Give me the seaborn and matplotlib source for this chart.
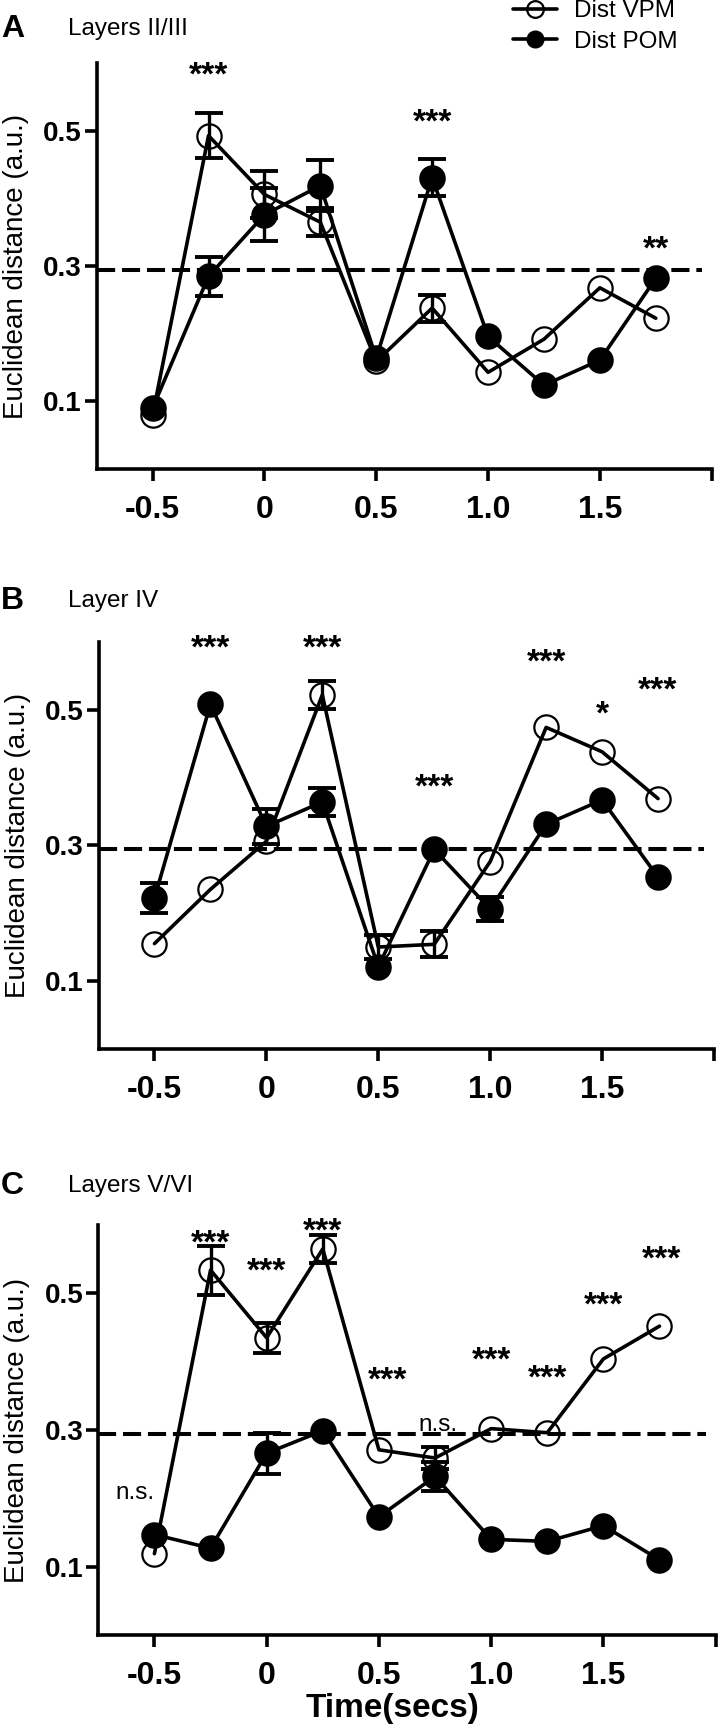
import numpy as np
import matplotlib
matplotlib.use('Agg')
import matplotlib.pyplot as plt
import seaborn as sns
from matplotlib.lines import Line2D

nan = np.nan

# Time points (secs)
times = [-0.5, -0.25, 0.0, 0.25, 0.5, 0.75, 1.0, 1.25, 1.5, 1.75]
threshold = 0.294

# Layers II/III
vpm_a = [0.080, 0.493, 0.406, 0.365, 0.159, 0.238, 0.143, 0.192, 0.268, 0.223]
vpm_a_sem = [nan, 0.033, 0.035, 0.021, nan, 0.020, nan, nan, nan, nan]
pom_a = [0.090, 0.285, 0.376, 0.419, 0.164, 0.431, 0.196, 0.124, 0.161, 0.282]
pom_a_sem = [nan, 0.029, 0.039, 0.038, nan, 0.027, nan, nan, nan, nan]
stars_a_x = [-0.25, 0.75, 1.75]
stars_a_y = [0.604, 0.535, 0.346]
stars_a_txt = ['***', '***', '**']

# Layer IV
vpm_b = [0.155, 0.235, 0.306, 0.522, 0.150, 0.154, 0.276, 0.474, 0.438, 0.369]
vpm_b_sem = [nan, nan, nan, 0.021, 0.018, 0.019, nan, nan, nan, nan]
pom_b = [0.222, 0.508, 0.328, 0.364, 0.121, 0.294, 0.206, 0.331, 0.367, 0.253]
pom_b_sem = [0.022, nan, 0.026, 0.021, nan, nan, 0.018, nan, nan, nan]
stars_b_x = [-0.25, 0.25, 0.75, 1.25, 1.5, 1.75]
stars_b_y = [0.612, 0.612, 0.407, 0.592, 0.515, 0.550]
stars_b_txt = ['***', '***', '***', '***', '*', '***']

# Layers V/VI
vpm_c = [0.119, 0.534, 0.435, 0.565, 0.271, 0.259, 0.302, 0.296, 0.404, 0.452]
vpm_c_sem = [nan, 0.036, 0.022, 0.021, nan, 0.016, nan, nan, nan, nan]
pom_c = [0.147, 0.127, 0.266, 0.299, 0.173, 0.232, 0.140, 0.137, 0.160, 0.110]
pom_c_sem = [nan, nan, 0.030, nan, nan, 0.021, nan, nan, nan, nan]
stars_c_x = [-0.25, 0.0, 0.25, 0.54, 1.0, 1.25, 1.5, 1.76]
stars_c_y = [0.595, 0.554, 0.612, 0.395, 0.424, 0.397, 0.504, 0.571]
stars_c_txt = ['***'] * 8
ns_c_x = [-0.586, 0.763]
ns_c_y = [0.199, 0.299]

xticks = [-0.5, 0.0, 0.5, 1.0, 1.5, 2.0]
xticklabels = ['-0.5', '0', '0.5', '1.0', '1.5', '']
yticks = [0.1, 0.3, 0.5]

sns.set_theme(style='ticks')
plt.rcParams['font.family'] = ['Liberation Sans', 'DejaVu Sans']
plt.rcParams.update({'text.color': 'black', 'axes.labelcolor': 'black',
                     'xtick.color': 'black', 'ytick.color': 'black'})

W, H = 720, 1728
fig = plt.figure(figsize=(W / 100, H / 100), dpi=100)


def px_axes(left, right, top, bottom):
    return fig.add_axes([left / W, 1 - bottom / H, (right - left) / W, (bottom - top) / H])


panels = [
    dict(box=(96.7, 711.7, 63.3, 469.0), vpm=vpm_a, vpm_sem=vpm_a_sem, pom=pom_a, pom_sem=pom_a_sem,
         sx=stars_a_x, sy=stars_a_y, st=stars_a_txt, letter='A', title='Layers II/III', ty=29),
    dict(box=(98.5, 714.0, 642.0, 1048.7), vpm=vpm_b, vpm_sem=vpm_b_sem, pom=pom_b, pom_sem=pom_b_sem,
         sx=stars_b_x, sy=stars_b_y, st=stars_b_txt, letter='B', title='Layer IV', ty=601),
    dict(box=(98.3, 715.6, 1225.0, 1635.0), vpm=vpm_c, vpm_sem=vpm_c_sem, pom=pom_c, pom_sem=pom_c_sem,
         sx=stars_c_x, sy=stars_c_y, st=stars_c_txt, letter='C', title='Layers V/VI', ty=1186),
]

lw = 2.6
ms = 17.5
t = np.array(times)

for p in panels:
    ax = px_axes(*p['box'])
    ax.axhline(threshold, xmin=0.0, xmax=0.984, color='black', lw=2.9,
               dashes=(4.5, 1.7), zorder=1)

    for vals, sem in [(p['vpm'], p['vpm_sem']), (p['pom'], p['pom_sem'])]:
        v = np.array(vals)
        s = np.array(sem)
        m = ~np.isnan(s)
        ax.errorbar(t[m], v[m], yerr=s[m], fmt='none', ecolor='black',
                    elinewidth=2.4, capsize=10, capthick=2.8, zorder=2)

    sns.lineplot(x=times, y=p['vpm'], ax=ax, color='black', lw=lw, marker='o',
                 markersize=ms, markerfacecolor='none', markeredgecolor='black',
                 markeredgewidth=1.6, errorbar=None, legend=False, zorder=3)
    sns.lineplot(x=times, y=p['pom'], ax=ax, color='black', lw=lw, marker='o',
                 markersize=ms, markerfacecolor='black', markeredgecolor='black',
                 markeredgewidth=1.6, errorbar=None, legend=False, zorder=4)

    for x, y, s in zip(p['sx'], p['sy'], p['st']):
        ax.text(x, y, s, ha='center', va='top', fontsize=24, fontweight='bold')

    ax.set_xlim(-0.75, 2.0)
    ax.set_ylim(0, 0.6)
    ax.set_xticks(xticks)
    ax.set_xticklabels(xticklabels)
    ax.set_yticks(yticks)
    ax.set_yticklabels([f'{v:.1f}' for v in yticks])
    sns.despine(ax=ax)
    for side in ['left', 'bottom']:
        ax.spines[side].set_linewidth(2.6)
        ax.spines[side].set_color('black')
    ax.tick_params(axis='both', direction='out', length=8.6, width=2.6, color='black')
    ax.tick_params(axis='x', labelsize=23, pad=10)
    ax.tick_params(axis='y', labelsize=20, pad=2)
    for lab in ax.get_xticklabels() + ax.get_yticklabels():
        lab.set_fontweight('bold')
    ax.set_xlabel('')
    ax.set_ylabel('Euclidean distance (a.u.)', fontsize=20)
    ax.yaxis.set_label_coords(-0.11, 0.5)
    ax.set_facecolor('white')

    fig.text(1 / W, 1 - p['ty'] / H, p['letter'], fontsize=23, fontweight='bold', va='center', ha='left')
    fig.text(68 / W, 1 - p['ty'] / H, p['title'], fontsize=17.5, va='center', ha='left')

    if p['letter'] == 'C':
        for x, y in zip(ns_c_x, ns_c_y):
            ax.text(x, y, 'n.s.', ha='center', va='baseline', fontsize=17.5)

fig.text(393 / W, 1 - 1709 / H, 'Time(secs)', fontsize=24, fontweight='bold', ha='center', va='center')

handles = [
    Line2D([], [], color='black', lw=2.6, marker='o', markersize=12, markerfacecolor='none',
           markeredgecolor='black', markeredgewidth=1.6),
    Line2D([], [], color='black', lw=2.6, marker='o', markersize=12, markerfacecolor='black',
           markeredgecolor='black'),
]
fig.legend(handles, ['Dist VPM', 'Dist POM'], loc='upper left', bbox_to_anchor=(513 / W, 1.0),
           frameon=False, fontsize=17.5, handlelength=1.8, handletextpad=0.7,
           labelspacing=0.35, borderpad=0, borderaxespad=0)

fig.savefig('out.png', dpi=100, facecolor='white')
